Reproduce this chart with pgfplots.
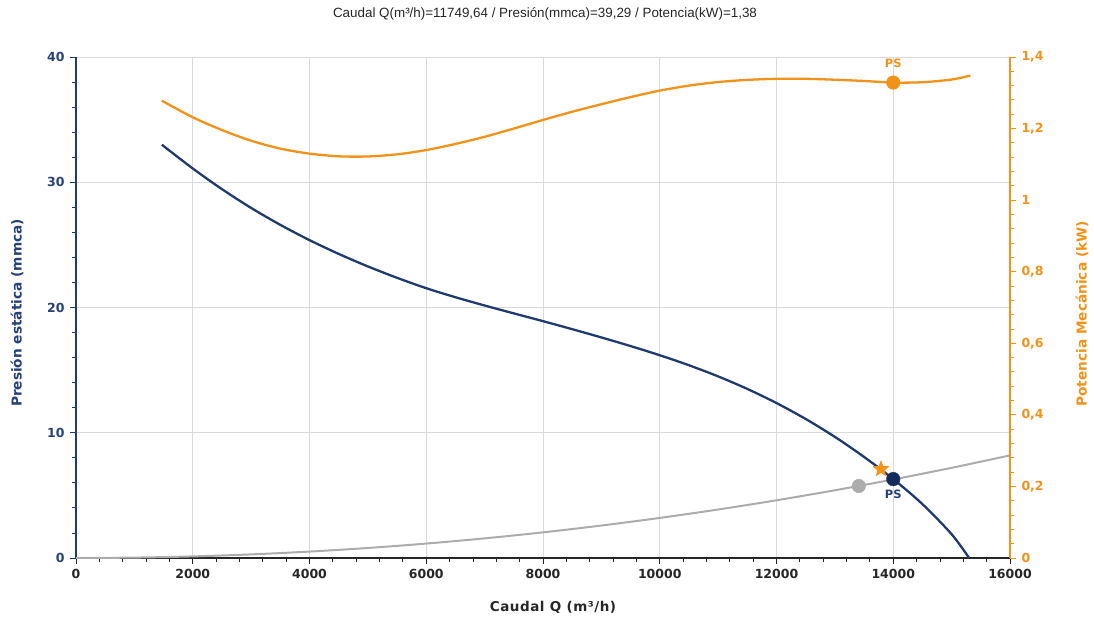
\documentclass[border=0pt]{standalone}
\usepackage{pgfplots}
\pgfplotsset{compat=1.18}
\usepackage{fontspec}
\setmainfont{DejaVu Sans}
\newfontfamily\titlefont{Liberation Sans}
\newfontfamily\widebold[LetterSpace=4]{DejaVu Sans Bold}
\definecolor{navy}{RGB}{31,58,110}
\definecolor{navydot}{RGB}{20,42,90}
\definecolor{navytxt}{RGB}{38,66,120}
\definecolor{orng}{RGB}{242,146,25}
\definecolor{gry}{RGB}{172,172,172}
\definecolor{gridc}{RGB}{218,218,218}
\pgfdeclareplotmark{fstar}{%
 \pgfpathmoveto{\pgfpointpolar{90}{9pt}}%
 \pgfpathlineto{\pgfpointpolar{126}{3.8pt}}%
 \pgfpathlineto{\pgfpointpolar{162}{9pt}}%
 \pgfpathlineto{\pgfpointpolar{198}{3.8pt}}%
 \pgfpathlineto{\pgfpointpolar{234}{9pt}}%
 \pgfpathlineto{\pgfpointpolar{270}{3.8pt}}%
 \pgfpathlineto{\pgfpointpolar{306}{9pt}}%
 \pgfpathlineto{\pgfpointpolar{342}{3.8pt}}%
 \pgfpathlineto{\pgfpointpolar{18}{9pt}}%
 \pgfpathlineto{\pgfpointpolar{54}{3.8pt}}%
 \pgfpathclose\pgfusepathqfill}
\begin{document}
\begin{tikzpicture}
\path[use as bounding box] (0pt,0pt) rectangle (1094pt,619pt);
\begin{axis}[name=main, at={(76pt,61pt)}, anchor=south west, scale only axis,
  width=934pt, height=501pt,
  xmin=0, xmax=16000, ymin=0, ymax=40,
  axis x line*=bottom, axis y line*=left,
  xtick={0,2000,...,16000}, ytick={0,10,20,30,40},
  minor x tick num=4, minor y tick num=4,
  tick align=outside, major tick length=6pt, minor tick length=4pt,
  xmajorgrids, ymajorgrids, grid style={gridc, line width=0.9pt},
  x axis line style={-, black!85, line width=1.1pt},
  y axis line style={-, navy, line width=1.1pt},
  x tick style={black!85, line width=0.9pt},
  y tick style={navy, line width=0.9pt},
  scaled x ticks=false,
  /pgf/number format/1000 sep={},
  /pgf/number format/assume math mode=true,
  tick label style={font=\bfseries\fontsize{12.5}{14}\selectfont},
  xticklabel style={text=black!85, yshift=-2pt},
  yticklabel style={text=navytxt, xshift=-2pt},
  clip=false]
\addplot[gry, line width=2pt, smooth] coordinates {
 (0,0) (1000,0.032) (2000,0.128) (3000,0.288) (4000,0.512) (5000,0.8)
 (6000,1.152) (7000,1.568) (8000,2.048) (9000,2.592) (10000,3.2)
 (11000,3.872) (12000,4.608) (13000,5.408) (14000,6.272) (15000,7.2) (16000,8.192)};
\addplot[navy, line width=2.3pt, smooth] coordinates {
 (1470,33.0) (2000,31.1) (2500,29.45) (3000,27.95) (3500,26.6) (4000,25.38)
 (4500,24.28) (5000,23.28) (5500,22.37) (6000,21.54) (6500,20.82) (7000,20.16)
 (7500,19.53) (8000,18.91) (8500,18.27) (9000,17.61) (9500,16.92) (10000,16.19)
 (10500,15.39) (11000,14.5) (11500,13.5) (12000,12.37) (12500,11.1)
 (13000,9.67) (13500,8.07) (14000,6.3) (14500,4.3) (15000,1.9) (15300,0)};
\addplot[only marks, mark=*, mark size=6.8pt, gry] coordinates {(13410,5.75)};
\addplot[only marks, mark=fstar, orng] coordinates {(13790,7.1)};
\addplot[only marks, mark=*, mark size=6.8pt, navydot] coordinates {(14000,6.3)};
\node[text=navytxt, font=\bfseries\fontsize{11.5}{13}\selectfont] at (axis cs:14000,5.05) {PS};
\end{axis}
\begin{axis}[at={(76pt,61pt)}, anchor=south west, scale only axis,
  width=934pt, height=501pt,
  xmin=0, xmax=16000, ymin=0, ymax=1.4,
  axis x line=none, axis y line*=right,
  ytick={0,0.2,0.4,0.6,0.8,1,1.2,1.4},
  minor y tick num=4,
  tick align=outside, major tick length=6pt, minor tick length=4pt,
  y axis line style={-, orng, line width=1.1pt},
  y tick style={orng, line width=0.9pt},
  /pgf/number format/use comma,
  /pgf/number format/assume math mode=true,
  tick label style={font=\bfseries\fontsize{12.5}{14}\selectfont},
  yticklabel style={text=orng, xshift=2pt},
  clip=false]
\addplot[orng, line width=2.3pt, smooth] coordinates {
 (1470,1.278) (2000,1.2315) (2500,1.196) (3000,1.166) (3500,1.144) (4000,1.13)
 (4500,1.1225) (5000,1.122) (5500,1.128) (6000,1.140) (6500,1.157) (7000,1.177)
 (7500,1.2) (8000,1.224) (8500,1.247) (9000,1.268) (9500,1.288) (10000,1.306)
 (10500,1.320) (11000,1.330) (11500,1.336) (12000,1.339) (12500,1.339)
 (13000,1.3365) (13500,1.333) (14000,1.3285) (14500,1.3295) (15000,1.337) (15320,1.348)};
\addplot[only marks, mark=*, mark size=6.8pt, orng] coordinates {(14000,1.3285)};
\node[text=orng, font=\bfseries\fontsize{11.5}{13}\selectfont] at (axis cs:14000,1.383) {PS};
\end{axis}
\node[font=\titlefont\fontsize{13.4}{15}\selectfont, text=black!85] at (545pt,605pt)
 {Caudal Q(m³/h)=11749,64 / Presión(mmca)=39,29 / Potencia(kW)=1,38};
\node[font=\widebold\fontsize{13.5}{15}\selectfont, text=black!85] at (553pt,12pt)
 {Caudal Q (m³/h)};
\node[font=\bfseries\fontsize{13.7}{15}\selectfont, text=navytxt, rotate=90] at (17pt,306pt)
 {Presión estática (mmca)};
\node[font=\bfseries\fontsize{13.7}{15}\selectfont, text=orng, rotate=90] at (1082pt,305pt)
 {Potencia Mecánica (kW)};
\end{tikzpicture}
\end{document}
